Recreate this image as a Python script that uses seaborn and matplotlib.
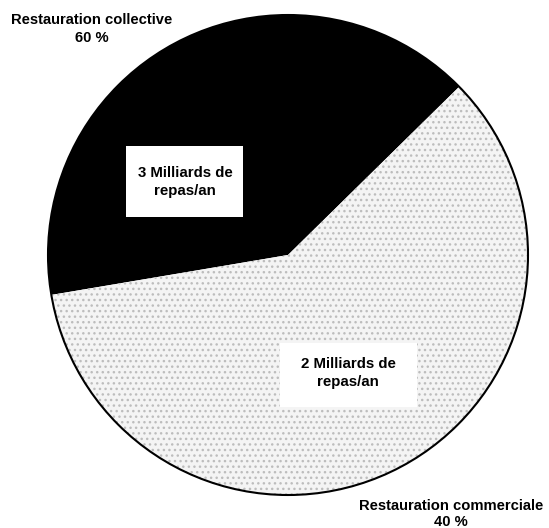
import numpy as np
import matplotlib
matplotlib.use("Agg")
import matplotlib.pyplot as plt
import seaborn as sns
from matplotlib.patches import Circle, Rectangle

# --- data ---
segments = ["Restauration collective", "Restauration commerciale"]
shares_drawn = [40.3, 59.7]          # wedge sizes as they appear in the drawing
share_labels = ["60 %", "40 %"]      # percentages printed on the chart
meals = ["3 Milliards de\nrepas/an", "2 Milliards de\nrepas/an"]
start_angle = 44.5

sns.set_theme(style="white")
plt.rcParams['font.family'] = ['Liberation Sans', 'DejaVu Sans']

fig = plt.figure(figsize=(5.49, 5.28), dpi=100)
ax = fig.add_axes([0, 0, 1, 1])

wedges, _ = ax.pie(shares_drawn, colors=["black", "#f4f4f4"], startangle=start_angle,
                   counterclock=True, radius=1.0,
                   wedgeprops=dict(linewidth=0, edgecolor="#bdbdbd"))
wedges[1].set_hatch("...")
wedges[1].set_linewidth(0)

ax.add_patch(Circle((0, 0), 1.0, fill=False, edgecolor="black", linewidth=1.5, zorder=3))

ax.set_xlim(-1.2, 1.0875)
ax.set_ylim(-1.1375, 1.0625)
ax.set_aspect("equal")
ax.axis("off")

def px(x, y):
    # pixel position in the 549x528 frame -> data coords
    return (x - 288) / 240, (255 - y) / 240

# white label boxes
for (x0, y0, x1, y1), text, (tx, ty) in [((126, 146, 243, 217), meals[0], (185, 182)),
                                          ((280, 343, 417, 407), meals[1], (348, 373))]:
    bx, by = px(x0, y1)
    ax.add_patch(Rectangle((bx, by), (x1 - x0) / 240, (y1 - y0) / 240,
                           facecolor="white", edgecolor="none", zorder=4))
    ax.text(*px(tx, ty), text, ha="center", va="center", fontsize=10.8,
            fontweight="bold", color="black", linespacing=1.45, zorder=5)

ax.text(*px(92, 29), f"{segments[0]}\n{share_labels[0]}", ha="center", va="center",
        fontsize=10.6, fontweight="bold", color="black", linespacing=1.35)
ax.text(*px(451, 514), f"{segments[1]}\n{share_labels[1]}", ha="center", va="center",
        fontsize=10.6, fontweight="bold", color="black", linespacing=1.2)

fig.savefig("out.png", dpi=100, facecolor="white")
